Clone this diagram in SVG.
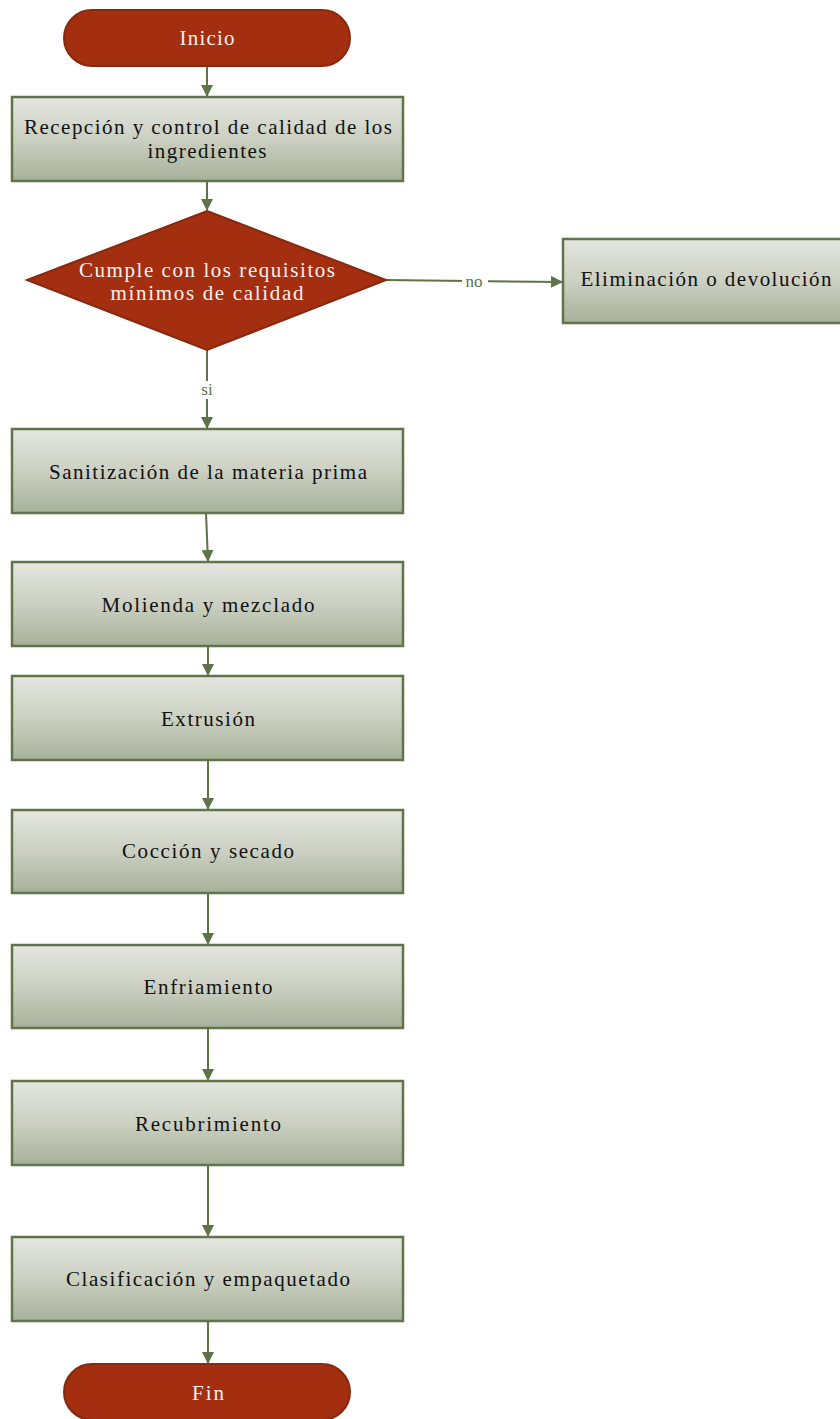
<svg xmlns="http://www.w3.org/2000/svg" width="840" height="1419" viewBox="0 0 840 1419">
<defs>
<linearGradient id="g" x1="0" y1="0" x2="0" y2="1">
<stop offset="0" stop-color="#e4e6e0"/>
<stop offset="0.5" stop-color="#cbd0c2"/>
<stop offset="1" stop-color="#a7b199"/>
</linearGradient>
<marker id="ah" markerWidth="12" markerHeight="12" viewBox="0 0 12 12" refX="11" refY="6" orient="auto" markerUnits="userSpaceOnUse">
<path d="M0,0 L12,6 L0,12 z" fill="#5e7347"/>
</marker>
</defs>
<style>
.box{fill:url(#g);stroke:#60744a;stroke-width:2.5}
.term{fill:#a32e10;stroke:#86290f;stroke-width:2}
.t{font-family:"Liberation Serif",serif;font-size:21px;fill:#111;text-anchor:middle}
.w{font-family:"Liberation Serif",serif;font-size:21px;fill:#f5f0ee;text-anchor:middle}
.c{stroke:#5e7347;stroke-width:2;fill:none;marker-end:url(#ah)}
.lbl{font-family:"Liberation Serif",serif;font-size:17px;fill:#5e7347;text-anchor:middle}
</style>
<g id="connectors">
<path class="c" d="M207,66 L207,96"/>
<path class="c" d="M207,181 L207,210"/>
<path class="c" d="M386,280 L562,282"/>
<path class="c" d="M207,350 L207,428"/>
<path class="c" d="M206,513 L208,561"/>
<path class="c" d="M208,646 L208,675"/>
<path class="c" d="M208,760 L208,809"/>
<path class="c" d="M208,893 L208,944"/>
<path class="c" d="M208,1028 L208,1080"/>
<path class="c" d="M208,1165 L208,1236"/>
<path class="c" d="M208,1321 L208,1363"/>
<rect x="462" y="273" width="26" height="16" fill="#fff"/>
<text class="lbl" x="474" y="287">no</text>
<rect x="200" y="381" width="14" height="18" fill="#fff"/>
<text class="lbl" x="207" y="395">si</text>
</g>
<g id="inicio">
<rect class="term" x="64" y="10" width="286" height="56" rx="28"/>
<text class="w" x="207" y="45" textLength="55" lengthAdjust="spacing">Inicio</text>
</g>
<g id="recepcion">
<rect class="box" x="12" y="97" width="391" height="84"/>
<text class="t" x="208" y="134" textLength="368" lengthAdjust="spacing">Recepción y control de calidad de los</text>
<text class="t" x="207" y="158" textLength="119" lengthAdjust="spacing">ingredientes</text>
</g>
<g id="decision">
<polygon class="term" points="207,211 386,280 207,350 27,280"/>
<text class="w" x="207" y="277" textLength="256" lengthAdjust="spacing">Cumple con los requisitos</text>
<text class="w" x="207" y="300" textLength="193" lengthAdjust="spacing">mínimos de calidad</text>
</g>
<g id="eliminacion">
<rect class="box" x="563" y="239" width="285" height="84"/>
<text class="t" x="706" y="286" textLength="251" lengthAdjust="spacing">Eliminación o devolución</text>
</g>
<g id="sanitizacion">
<rect class="box" x="12" y="429" width="391" height="84"/>
<text class="t" x="208" y="479" textLength="318" lengthAdjust="spacing">Sanitización de la materia prima</text>
</g>
<g id="molienda">
<rect class="box" x="12" y="562" width="391" height="84"/>
<text class="t" x="208" y="612" textLength="213" lengthAdjust="spacing">Molienda y mezclado</text>
</g>
<g id="extrusion">
<rect class="box" x="12" y="676" width="391" height="84"/>
<text class="t" x="208" y="726" textLength="94" lengthAdjust="spacing">Extrusión</text>
</g>
<g id="coccion">
<rect class="box" x="12" y="810" width="391" height="83"/>
<text class="t" x="208" y="858" textLength="172" lengthAdjust="spacing">Cocción y secado</text>
</g>
<g id="enfriamiento">
<rect class="box" x="12" y="945" width="391" height="83"/>
<text class="t" x="208" y="994" textLength="129" lengthAdjust="spacing">Enfriamiento</text>
</g>
<g id="recubrimiento">
<rect class="box" x="12" y="1081" width="391" height="84"/>
<text class="t" x="208" y="1131" textLength="146" lengthAdjust="spacing">Recubrimiento</text>
</g>
<g id="clasificacion">
<rect class="box" x="12" y="1237" width="391" height="84"/>
<text class="t" x="208" y="1286" textLength="284" lengthAdjust="spacing">Clasificación y empaquetado</text>
</g>
<g id="fin">
<rect class="term" x="64" y="1364" width="286" height="56" rx="28"/>
<text class="w" x="208" y="1400" textLength="32" lengthAdjust="spacing">Fin</text>
</g>
</svg>
